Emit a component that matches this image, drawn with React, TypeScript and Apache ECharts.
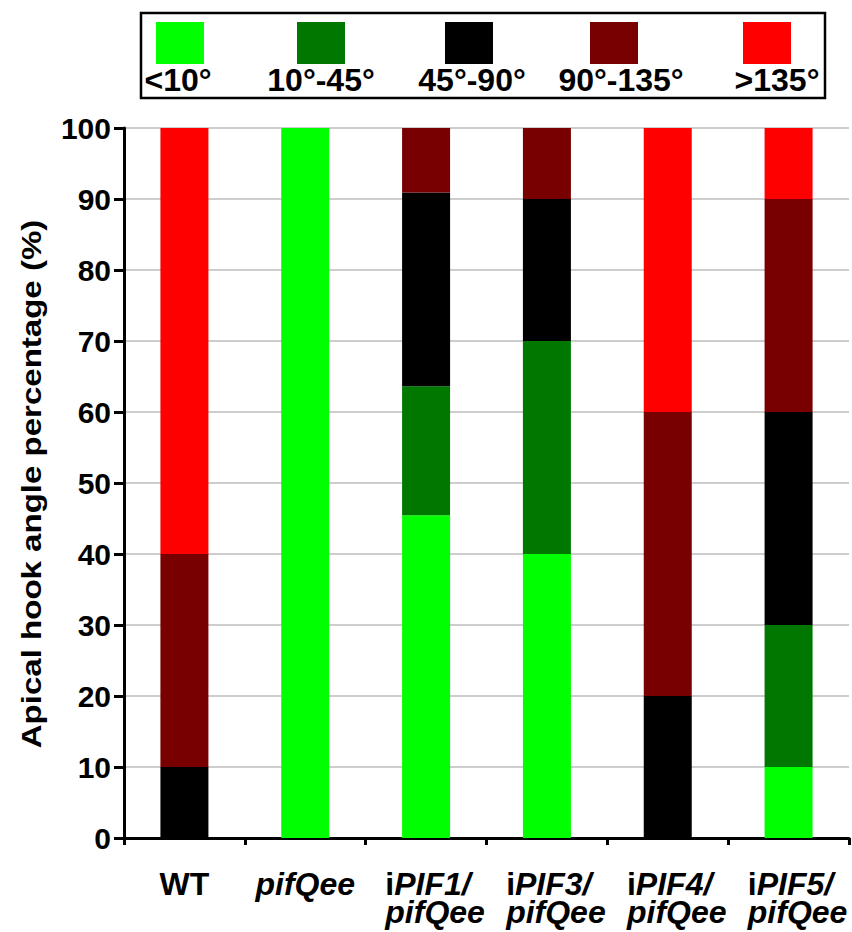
import React, { useEffect, useRef } from "react";
import * as echarts from "echarts";

const categories = ["WT", "pifQee", "iPIF1/\npifQee", "iPIF3/\npifQee", "iPIF4/\npifQee", "iPIF5/\npifQee"];
const seriesNames = ["<10°", "10°-45°", "45°-90°", "90°-135°", ">135°"];
const lt10 = [0, 100, 45.45, 40, 0, 10];
const d10to45 = [0, 0, 18.18, 30, 0, 20];
const d45to90 = [10, 0, 27.27, 20, 20, 30];
const d90to135 = [30, 0, 9.09, 10, 40, 30];
const gt135 = [60, 0, 0, 0, 40, 10];
const yMin = 0;
const yMax = 100;
const yStep = 10;
const yAxisTitle = "Apical hook angle percentage (%)";

const colors = ["#00ff00", "#007800", "#000000", "#780000", "#ff0000"];
const legendSwatchX = [180, 321, 469, 614, 767];
const legendLabelX = [178, 321, 472, 621, 777];

const FONT = "'Liberation Sans', Arial, sans-serif";

function formatCategory(v: string): string {
  if (v === "WT") return "{b|WT}";
  const lines = v.split("\n");
  if (lines.length === 1) return "{it|" + v + "}";
  return lines
    .map((line) => {
      if (/^iP/.test(line)) return "{sp| }{b|i}{it|" + line.slice(1) + "}";
      return "{sp| }{it|" + line + "}";
    })
    .join("\n");
}

export default function App() {
  const ref = useRef<HTMLDivElement>(null);
  useEffect(() => {
    document.body.style.margin = "0";
    if (!ref.current) return;
    const chart = echarts.init(ref.current, undefined, { renderer: "svg" });
    const seriesData = [lt10, d10to45, d45to90, d90to135, gt135];
    const graphics: any[] = [
      {
        type: "rect",
        shape: { x: 141, y: 13, width: 684, height: 85 },
        style: { fill: "#fff", stroke: "#000", lineWidth: 2.5 },
      },
      {
        type: "text",
        x: 31,
        y: 484,
        rotation: Math.PI / 2,
        scaleX: 1.18,
        style: {
          text: yAxisTitle,
          fill: "#000",
          font: "bold 28px " + FONT,
          textAlign: "center",
          textVerticalAlign: "middle",
        },
      },
    ];
    seriesNames.forEach((n, i) => {
      graphics.push({
        type: "rect",
        shape: { x: legendSwatchX[i] - 24, y: 22, width: 48, height: 42 },
        style: { fill: colors[i] },
      });
      graphics.push({
        type: "text",
        x: legendLabelX[i],
        y: 80,
        style: {
          text: n,
          fill: "#000",
          font: "bold 32px " + FONT,
          textAlign: "center",
          textVerticalAlign: "middle",
        },
      });
    });
    const base = { fontFamily: FONT, fontWeight: "bold", fontSize: 32, color: "#000", lineHeight: 28, align: "left" };
    chart.setOption({
      animation: false,
      backgroundColor: "#fff",
      grid: { left: 124, right: 3, top: 128, bottom: 94, containLabel: false },
      graphic: graphics,
      xAxis: {
        type: "category",
        data: categories,
        axisLine: { lineStyle: { color: "#000", width: 3 } },
        axisTick: { show: true, length: 7, lineStyle: { color: "#000", width: 3 } },
        axisLabel: {
          margin: 32,
          interval: 0,
          formatter: formatCategory,
          rich: {
            b: { ...base },
            it: { ...base, fontStyle: "italic" },
            sp: { ...base, width: 18 },
          },
        },
      },
      yAxis: {
        type: "value",
        min: yMin,
        max: yMax,
        interval: yStep,
        axisLine: { show: true, lineStyle: { color: "#000", width: 3 } },
        axisTick: { show: true, length: 10, lineStyle: { color: "#000", width: 3 } },
        axisLabel: { margin: 13, fontFamily: FONT, fontWeight: "bold", fontSize: 30, color: "#000" },
        splitLine: { show: true, lineStyle: { color: "#bdbdbd", width: 1.5 } },
      },
      series: seriesNames.map((n, i) => ({
        name: n,
        type: "bar",
        stack: "total",
        barWidth: 48,
        data: seriesData[i],
        itemStyle: { color: colors[i] },
      })),
    });
    return () => chart.dispose();
  }, []);
  return <div ref={ref} style={{ width: 852, height: 932 }} />;
}
